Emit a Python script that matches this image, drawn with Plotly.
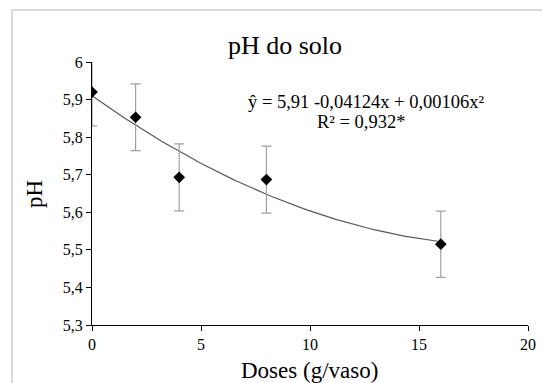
import numpy as np
import plotly.graph_objects as go

doses = [0, 2, 4, 8, 16]
ph = [5.92, 5.853, 5.693, 5.687, 5.515]
ph_err = [0.09, 0.089, 0.089, 0.089, 0.088]
coef = [5.91, -0.04124, 0.00106]
x_ticks = [0, 5, 10, 15, 20]
y_ticks = [5.3, 5.4, 5.5, 5.6, 5.7, 5.8, 5.9, 6.0]
y_labels = ["5,3", "5,4", "5,5", "5,6", "5,7", "5,8", "5,9", "6"]

xf = np.linspace(0, 16, 100)
yf = coef[0] + coef[1] * xf + coef[2] * xf ** 2

FONT = "'Liberation Serif', 'Times New Roman', 'DejaVu Serif', serif"
L, R, T, B = 92, 14, 62, 58
PW, PH = 542 - L - R, 383 - T - B


def px(x):
    return (x - L) / PW


def py(y):
    return 1 - (y - T) / PH


fig = go.Figure()
fig.add_trace(go.Scatter(x=xf, y=yf, mode="lines",
                         line=dict(color="#595959", width=1.2),
                         hoverinfo="skip", showlegend=False))
fig.add_trace(go.Scatter(x=doses, y=ph, mode="markers",
                         marker=dict(symbol="diamond", color="black", size=9),
                         error_y=dict(type="data", array=ph_err, color="#a0a0a0",
                                      thickness=1.2, width=5),
                         showlegend=False))

fig.update_layout(
    width=542, height=383,
    margin=dict(l=L, r=R, t=T, b=B, autoexpand=False),
    paper_bgcolor="white", plot_bgcolor="white",
    font=dict(family=FONT, color="black", size=16),
    title=dict(text="pH do solo", x=285 / 542, xanchor="center",
               y=1 - 45 / 383, yanchor="middle",
               font=dict(family=FONT, size=26, color="black")),
    xaxis=dict(range=[0, 20], tickvals=x_ticks, ticks="outside", ticklen=5,
               tickcolor="black", showline=True, linecolor="black", linewidth=1,
               showgrid=False, zeroline=False, layer="below traces",
               tickfont=dict(family=FONT, size=16), automargin=False),
    yaxis=dict(range=[5.3, 6.0], tickvals=y_ticks, ticktext=y_labels, ticks="outside",
               ticklen=5, tickcolor="black", showline=True, linecolor="black",
               linewidth=1, showgrid=False, zeroline=False, layer="below traces",
               tickfont=dict(family=FONT, size=16), automargin=False),
    shapes=[dict(type="rect", xref="paper", yref="paper",
                 x0=px(12), x1=1.2, y0=-0.5, y1=py(10),
                 line=dict(color="#d9d9d9", width=2), fillcolor="rgba(0,0,0,0)",
                 layer="below")],
    annotations=[
        dict(text="ŷ = 5,91 -0,04124x + 0,00106x²", xref="paper", yref="paper",
             x=px(366), y=py(102), xanchor="center",
             yanchor="middle", showarrow=False, font=dict(family=FONT, size=18.5)),
        dict(text="R² = 0,932*", xref="paper", yref="paper",
             x=px(361), y=py(122), xanchor="center",
             yanchor="middle", showarrow=False, font=dict(family=FONT, size=18.5)),
        dict(text="Doses (g/vaso)", xref="paper", yref="paper",
             x=px(309), y=py(370), xanchor="center", yanchor="middle",
             showarrow=False, font=dict(family=FONT, size=23)),
        dict(text="pH", xref="paper", yref="paper", textangle=-90,
             x=px(34), y=py(194), xanchor="center", yanchor="middle",
             showarrow=False, font=dict(family=FONT, size=23)),
    ],
)

fig.write_html("out.html")
